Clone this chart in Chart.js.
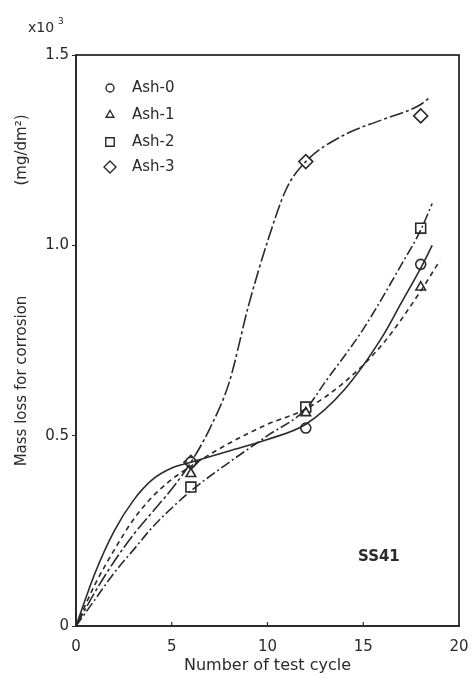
<!DOCTYPE html>
<html>
<head>
    <title>Mass loss SS41</title>
    <script src='https://cdn.jsdelivr.net/npm/chart.js'></script>
    <style>
        html, body { margin: 0; padding: 0; background: #fff; }
        #wrap { width: 474px; height: 679px; position: relative; }
    </style>
</head>
<body>
    <div id="wrap"><canvas id="massChart"></canvas></div>
    <script>
        // marker positions (test cycles) and read values, x10^3 mg/dm2
        const testCycles = [6, 12, 18];
        const ash0Marks = [0.43, 0.52, 0.95];
        const ash1Marks = [0.40, 0.56, 0.89];
        const ash2Marks = [0.365, 0.575, 1.045];
        const ash3Marks = [0.43, 1.22, 1.34];

        // smoothed curves
        const ash0CurveX = [0, 1, 2, 3, 4, 5, 6, 8, 10, 12, 14, 16, 17, 18, 18.6];
        const ash0CurveY = [0, 0.14, 0.25, 0.33, 0.385, 0.415, 0.43, 0.46, 0.49, 0.53, 0.62, 0.76, 0.85, 0.94, 1.0];
        const ash1CurveX = [0, 1, 2, 3, 4, 5, 6, 8, 10, 12, 14, 16, 18, 19];
        const ash1CurveY = [0, 0.11, 0.2, 0.28, 0.34, 0.385, 0.42, 0.48, 0.53, 0.57, 0.64, 0.74, 0.88, 0.96];
        const ash2CurveX = [0, 1, 2, 3, 4, 5, 6, 8, 10, 12, 13, 15, 17, 18, 18.6];
        const ash2CurveY = [0, 0.07, 0.14, 0.2, 0.26, 0.31, 0.355, 0.43, 0.5, 0.57, 0.64, 0.78, 0.95, 1.04, 1.11];
        const ash3CurveX = [0, 1, 2, 3, 4, 5, 6, 7, 8, 9, 10, 11, 12, 14, 16, 18, 18.5];
        const ash3CurveY = [0, 0.09, 0.17, 0.24, 0.3, 0.36, 0.43, 0.52, 0.64, 0.84, 1.01, 1.15, 1.22, 1.29, 1.33, 1.37, 1.39];

        const seriesNames = ['Ash-0', 'Ash-1', 'Ash-2', 'Ash-3'];
        const xTicks = [0, 5, 10, 15, 20];
        const yTicks = [0, 0.5, 1.0, 1.5];

        const ink = '#2a2a2a';
        const fontName = "'DejaVu Sans', sans-serif";
        const markerStyles = ['circle', 'triangle', 'rect', 'rectRot'];
        const markerSizes = [5, 5.5, 7, 7];
        const dashStyles = [[], [5, 4], [10, 3, 2, 3], [14, 3, 3, 3]];

        function toPoints(xs, ys) {
            return xs.map((x, i) => ({ x: x, y: ys[i] }));
        }

        const curves = [
            toPoints(ash0CurveX, ash0CurveY),
            toPoints(ash1CurveX, ash1CurveY),
            toPoints(ash2CurveX, ash2CurveY),
            toPoints(ash3CurveX, ash3CurveY)
        ];
        const marks = [ash0Marks, ash1Marks, ash2Marks, ash3Marks];

        const datasets = [];
        curves.forEach((pts, i) => {
            datasets.push({
                label: seriesNames[i] + ' curve',
                data: pts,
                showLine: true,
                borderColor: ink,
                borderWidth: 1.6,
                borderDash: dashStyles[i],
                pointRadius: 0,
                cubicInterpolationMode: 'monotone',
                fill: false
            });
        });
        marks.forEach((vals, i) => {
            datasets.push({
                label: seriesNames[i],
                data: toPoints(testCycles, vals),
                showLine: false,
                pointStyle: markerStyles[i],
                pointRadius: markerSizes[i],
                pointBorderWidth: 1.6,
                pointBorderColor: ink,
                pointBackgroundColor: '#fff'
            });
        });

        // extra texts, frame and in-plot legend
        const decor = {
            id: 'decor',
            afterDraw(chart) {
                const ctx = chart.ctx;
                const a = chart.chartArea;
                ctx.save();
                ctx.strokeStyle = ink;
                ctx.lineWidth = 1.8;
                ctx.strokeRect(a.left, a.top, a.right - a.left, a.bottom - a.top);

                // small inward ticks like the original
                ctx.lineWidth = 1.2;
                xTicks.slice(1, -1).forEach(v => {
                    const px = chart.scales.x.getPixelForValue(v);
                    ctx.beginPath();
                    ctx.moveTo(px, a.bottom);
                    ctx.lineTo(px, a.bottom - 4);
                    ctx.stroke();
                });

                ctx.fillStyle = ink;
                ctx.font = '14px ' + fontName;
                ctx.textBaseline = 'middle';
                ctx.textAlign = 'left';
                ctx.fillText('x10', 28, 28);
                ctx.font = '9px ' + fontName;
                ctx.fillText('3', 58, 22);

                ctx.save();
                ctx.translate(22, 381);
                ctx.rotate(-Math.PI / 2);
                ctx.textAlign = 'center';
                ctx.font = '15px ' + fontName;
                ctx.fillText('Mass loss for corrosion', 0, 0);
                ctx.restore();

                ctx.save();
                ctx.translate(22, 150);
                ctx.rotate(-Math.PI / 2);
                ctx.textAlign = 'center';
                ctx.font = '15px ' + fontName;
                ctx.fillText('(mg/dm\u00b2)', 0, 0);
                ctx.restore();

                ctx.font = 'bold 15px ' + fontName;
                ctx.textAlign = 'left';
                ctx.fillText('SS41', 358, 557);

                const rows = [88, 115, 142, 167];
                ctx.font = '15px ' + fontName;
                seriesNames.forEach((name, i) => {
                    ctx.lineWidth = 1.4;
                    ctx.strokeStyle = ink;
                    ctx.fillStyle = '#fff';
                    Chart.helpers.drawPoint(ctx, {
                        pointStyle: markerStyles[i],
                        radius: markerSizes[i] - 1,
                        borderWidth: 1.4
                    }, 110, rows[i]);
                    ctx.fillStyle = ink;
                    ctx.fillText(name, 132, rows[i]);
                });
                ctx.restore();
            }
        };

        new Chart(document.getElementById('massChart').getContext('2d'), {
            type: 'scatter',
            data: { datasets: datasets },
            options: {
                responsive: true,
                maintainAspectRatio: false,
                animation: false,
                layout: { padding: { top: 55, right: 15, left: 0, bottom: 0 } },
                plugins: {
                    legend: { display: false },
                    tooltip: { enabled: false }
                },
                scales: {
                    x: {
                        type: 'linear',
                        min: 0,
                        max: 20,
                        afterBuildTicks(scale) { scale.ticks = xTicks.map(v => ({ value: v })); },
                        afterFit(scale) { scale.height = 53; },
                        grid: { display: false },
                        border: { display: true, color: ink, width: 1.8 },
                        ticks: {
                            color: ink,
                            padding: 4,
                            font: { family: fontName, size: 15 },
                            callback: v => String(v)
                        },
                        title: {
                            display: true,
                            text: 'Number of test cycle',
                            color: ink,
                            padding: { top: 0 },
                            font: { family: fontName, size: 16 }
                        }
                    },
                    y: {
                        type: 'linear',
                        min: 0,
                        max: 1.5,
                        afterBuildTicks(scale) { scale.ticks = yTicks.map(v => ({ value: v })); },
                        afterFit(scale) { scale.width = 76; },
                        grid: { display: true, drawOnChartArea: false, tickLength: 4, color: ink },
                        border: { display: true, color: ink, width: 1.8 },
                        ticks: {
                            color: ink,
                            padding: 3,
                            font: { family: fontName, size: 15 },
                            callback: v => (v === 0 ? '0' : v.toFixed(1))
                        }
                    }
                }
            },
            plugins: [decor]
        });
    </script>
</body>
</html>
